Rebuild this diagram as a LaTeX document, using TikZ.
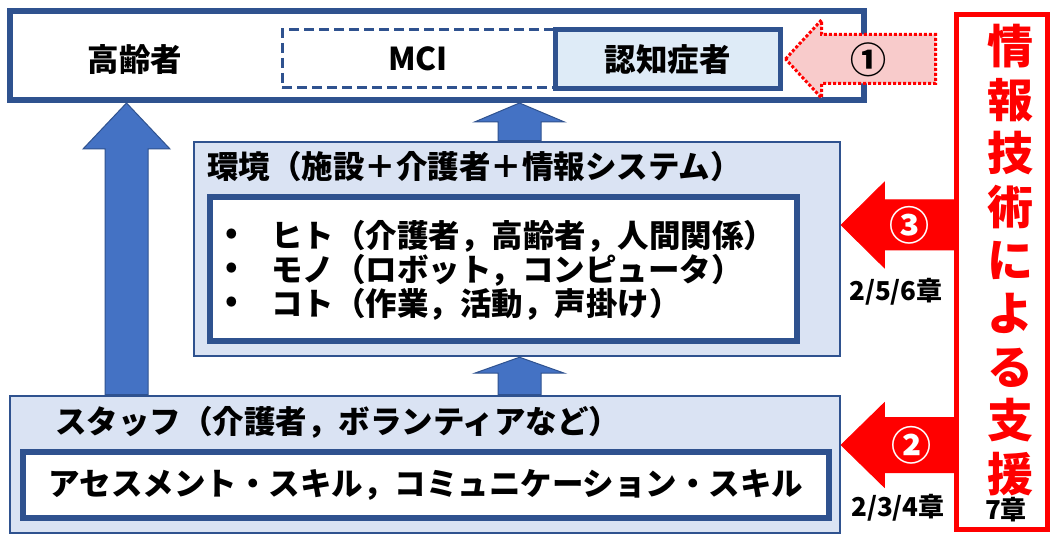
\documentclass[tikz,border=0pt]{standalone}
\usepackage{fontspec}
\setmainfont{Noto Sans CJK JP}
\usetikzlibrary{calc}
\definecolor{dblue}{HTML}{2F528F}
\definecolor{ablue}{HTML}{4472C4}
\definecolor{lblue}{HTML}{DAE3F3}
\definecolor{cblue}{HTML}{DEEBF7}
\definecolor{pinkf}{HTML}{F8CBCB}
\definecolor{redc}{HTML}{FF0000}
\newcommand\blockup[5]{%
  \draw[barrow] let \p1=(#1), \p2=(#2) in
    (\x2,\y2) -- (\x2+#4,\y2-#5) -- (\x2+#3,\y2-#5) -- (\x1+#3,\y1) --
    (\x1-#3,\y1) -- (\x2-#3,\y2-#5) -- (\x2-#4,\y2-#5) -- cycle;}
\newcommand\blockleft[6]{%
  \draw[#6] let \p1=(#1), \p2=(#2) in
    (\x2,\y2) -- (\x2+#5,\y2+#4) -- (\x2+#5,\y2+#3) -- (\x1,\y1+#3) --
    (\x1,\y1-#3) -- (\x2+#5,\y2-#3) -- (\x2+#5,\y2-#4) -- cycle;}
\begin{document}
\begin{tikzpicture}[x=1pt,y=-1pt,
  txt/.style={font=\fontsize{31.5}{36}\selectfont\bfseries, inner sep=0pt},
  circ/.style={font=\fontsize{#1}{#1}\selectfont\bfseries, inner sep=0pt},
  chap/.style={font=\fontsize{26}{30}\selectfont\bfseries, inner sep=0pt},
  thickbox/.style={draw=dblue, line width=6pt},
  thinbox/.style={draw=dblue, line width=2.5pt, fill=lblue},
  barrow/.style={fill=ablue, draw=dblue, line width=1pt},
  rarrow/.style={fill=redc, draw=redc, line width=1pt},
  parrow/.style={fill=pinkf, draw=redc, line width=3pt, dotted},
]
\useasboundingbox (0,0) rectangle (1052,534);
\fill[white] (0,0) rectangle (1052,534);

% boxes (positions)
\node[thickbox, minimum width=854pt, minimum height=89pt] (top) at (437,55.5) {};
\node[thinbox, minimum width=646pt, minimum height=214pt] (env) at (517,249) {};
\node[thinbox, minimum width=830pt, minimum height=137pt] (staff) at (425,464.5) {};
\node[draw=redc, line width=5pt, minimum width=91pt, minimum height=515pt] (red) at (1001.5,272) {};

% blue arrows
\coordinate (lb) at (126.5,0 |- staff.north);
\coordinate (lt) at (126.5,0 |- top.south);
\blockup{lb}{lt}{21.5pt}{43.5pt}{46pt}
\coordinate (mb1) at (519.5,0 |- env.north);
\coordinate (mt1) at (519.5,0 |- top.south);
\blockup{mb1}{mt1}{21.5pt}{45pt}{19pt}
\coordinate (mb2) at (519.5,0 |- staff.north);
\coordinate (mt2) at (519.5,0 |- env.south);
\blockup{mb2}{mt2}{21.5pt}{45pt}{16pt}

% redraw boxes on top of arrow ends
\node[thickbox, minimum width=854pt, minimum height=89pt] at (top) {};
\node[thinbox, minimum width=646pt, minimum height=214pt] at (env) {};
\node[thinbox, minimum width=830pt, minimum height=137pt] at (staff) {};

% top row
\node[draw=dblue, line width=3pt, dash pattern=on 10pt off 5pt,
      minimum width=272pt, minimum height=58pt] (mci) at (418,59) {};
\node[draw=dblue, line width=5pt, fill=cblue, minimum width=225pt,
      minimum height=59pt] (cz) at (667.5,59.5) {};
\node[txt] (koreisha) at (135,60) {高齢者};
\node[txt] (mcit) at (mci.center) {MCI};
\node[txt] (czt) at (cz.center) {認知症者};

% environment
\node[txt, anchor=west] (envt) at (207,167) {環境（施設＋介護者＋情報システム）};
\node[draw=dblue, line width=6pt, fill=white, minimum width=587pt,
      minimum height=144pt] (envin) at (503.5,269) {};
\node[txt, anchor=center] (b1) at (232,236) {•};
\node[txt, anchor=center] (b2) at (232,270) {•};
\node[txt, anchor=center] (b3) at (232,304) {•};
\node[txt, anchor=west] (l1) at (271,236) {ヒト（介護者，高齢者，人間関係）};
\node[txt, anchor=west] (l2) at (271,270) {モノ（ロボット，コンピュータ）};
\node[txt, anchor=west] (l3) at (271,304) {コト（作業，活動，声掛け）};

% staff
\node[txt, anchor=west] (stafft) at (55,422) {スタッフ（介護者，ボランティアなど）};
\node[draw=dblue, line width=6pt, fill=white, minimum width=806pt,
      minimum height=66pt] (skill) at (426,484.5) {};
\node[txt] (skillt) at (skill.center) {アセスメント・スキル，コミュニケーション・スキル};

% red arrows
\coordinate (a1s) at ([xshift=-18pt]red.west |- 0,59);
\coordinate (a1e) at ([xshift=3pt]cz.east |- 0,59);
\blockleft{a1s}{a1e}{24.5pt}{39pt}{36pt}{parrow}
\coordinate (a3s) at (red.west |- 0,225);
\coordinate (a3e) at (env.east |- 0,225);
\blockleft{a3s}{a3e}{25pt}{42.5pt}{43pt}{rarrow}
\coordinate (a2s) at (red.west |- 0,445);
\coordinate (a2e) at (staff.east |- 0,445);
\blockleft{a2s}{a2e}{27.5pt}{42pt}{43pt}{rarrow}
\node[draw=redc, line width=5pt, minimum width=91pt, minimum height=515pt] at (red) {};

\node[circ=36] (c1) at (868,60) {①};
\node[circ=40, text=white] (c3) at (909,225) {③};
\node[circ=40, text=white] (c2) at (911,445) {②};
\node[chap] (ch3) at (896,292) {2/5/6章};
\node[chap] (ch2) at (898,508) {2/3/4章};
\node[chap] (ch7) at (1006,510) {7章};

% vertical title
\node[font=\fontsize{46}{53.4}\selectfont\bfseries, text=redc, align=center,
      inner sep=0pt] (vt) at (1010,260) {情\\報\\技\\術\\に\\よ\\る\\支\\援};
\end{tikzpicture}
\end{document}
